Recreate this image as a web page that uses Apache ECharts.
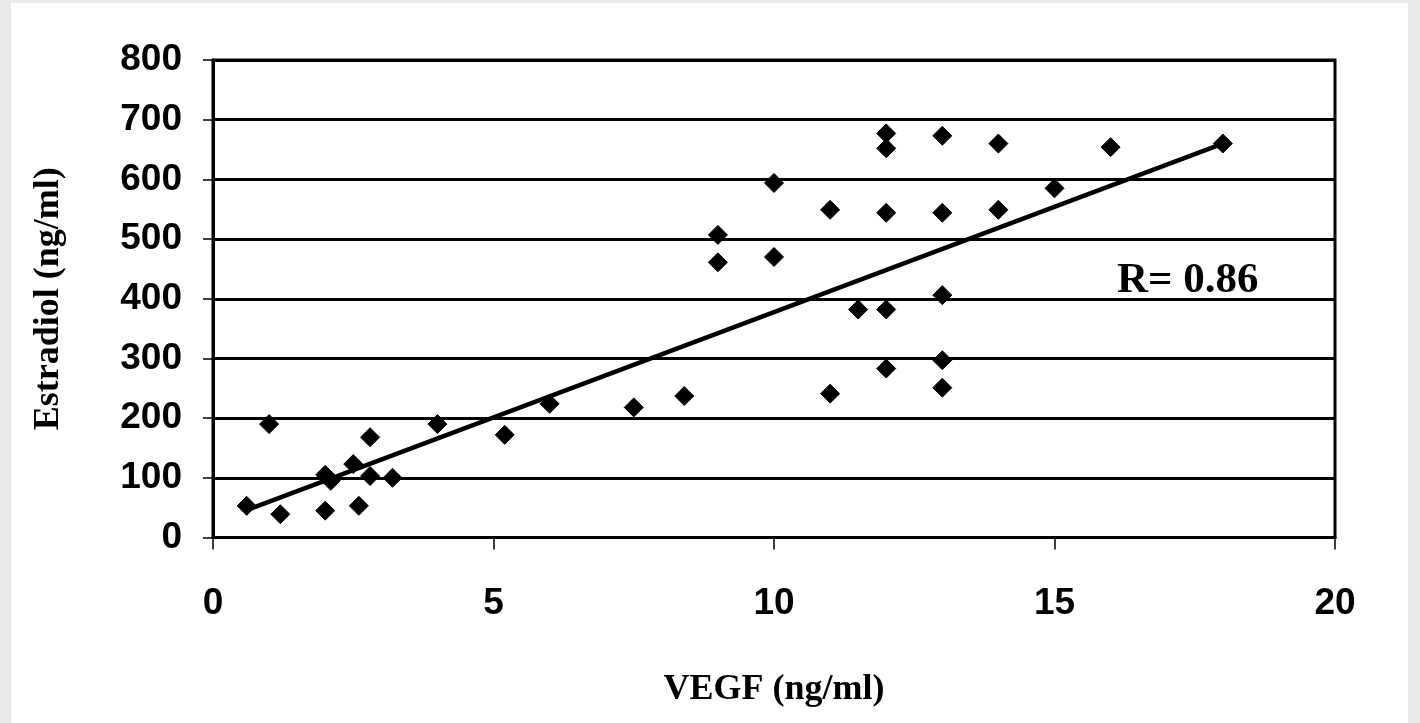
<!DOCTYPE html>
<html>
<head>
<meta charset="utf-8">
<script src="https://cdn.jsdelivr.net/npm/echarts@6/dist/echarts.min.js"></script>
<style>
  html, body { margin: 0; padding: 0; background: #e9eaea; }
  #chart { position: absolute; left: 11px; top: 3px; width: 1397px; height: 720px; background: #ffffff; }
</style>
</head>
<body>
<div id="chart"></div>
<script>
// VEGF (ng/ml) vs Estradiol (ng/ml)
const vegf = [0.6, 1.0, 1.2, 2.0, 2.0, 2.1, 2.5, 2.6, 2.8, 2.8, 3.2, 4.0, 5.2, 6.0, 7.5, 8.4,
  9, 9, 10, 10, 11, 11, 11.5, 12, 12, 12, 12, 12, 13, 13, 13, 13, 13, 14, 14, 15, 16, 18];
const estradiol = [53, 190, 39, 45, 105, 95, 123, 53, 168, 103, 100, 190, 172, 224, 218, 237,
  507, 461, 594, 470, 549, 241, 382, 677, 652, 544, 382, 283, 673, 544, 406, 297, 251, 660, 549, 585, 654, 660];

// regression line end points
const trendX = [0.6, 18];
const trendY = [46, 660];

const xTicks = [0, 5, 10, 15, 20];
const yTicks = [0, 100, 200, 300, 400, 500, 600, 700, 800];
const rLabel = "R= 0.86";

const chart = echarts.init(document.getElementById("chart"), null, { renderer: "canvas" });

const tickFont = {
  fontFamily: "Liberation Sans, Arial, sans-serif",
  fontWeight: "bold",
  fontSize: 37,
  color: "#000",
};
const nameFont = {
  fontFamily: "Liberation Serif, Times New Roman, serif",
  fontWeight: "bold",
  fontSize: 36,
  color: "#000",
};

chart.setOption({
  animation: false,
  grid: { left: 202, top: 57, width: 1122, height: 477.5, show: true, borderColor: "#000", borderWidth: 3 },
  xAxis: {
    type: "value",
    min: xTicks[0],
    max: xTicks[xTicks.length - 1],
    interval: 5,
    name: "VEGF (ng/ml)",
    nameLocation: "middle",
    nameGap: 134,
    nameTextStyle: nameFont,
    axisLine: { onZero: false, lineStyle: { color: "#000", width: 3 } },
    axisTick: { show: true, length: 12, lineStyle: { color: "#000", width: 1.5 } },
    axisLabel: Object.assign({ margin: 48 }, tickFont),
    splitLine: { show: false },
  },
  yAxis: {
    type: "value",
    min: yTicks[0],
    max: yTicks[yTicks.length - 1],
    interval: 100,
    name: "Estradiol (ng/ml)",
    nameLocation: "middle",
    nameGap: 146,
    nameTextStyle: nameFont,
    axisLine: { lineStyle: { color: "#000", width: 3 } },
    axisTick: { show: true, length: 10, lineStyle: { color: "#000", width: 1.5 } },
    axisLabel: Object.assign({ margin: 31 }, tickFont),
    splitLine: { show: true, lineStyle: { color: "#000", width: 3 } },
  },
  graphic: [
    {
      type: "text",
      left: 1106,
      top: 256,
      style: {
        text: rLabel,
        font: "bold 43px 'Liberation Serif', 'Times New Roman', serif",
        fill: "#000",
      },
    },
  ],
  series: [
    {
      type: "line",
      data: trendX.map((x, i) => [x, trendY[i]]),
      symbol: "none",
      lineStyle: { color: "#000", width: 4.5 },
      z: 2,
    },
    {
      type: "scatter",
      data: vegf.map((x, i) => [x, estradiol[i]]),
      symbol: "diamond",
      symbolSize: 19,
      itemStyle: { color: "#000", opacity: 1, borderColor: "#000", borderWidth: 1 },
      z: 3,
    },
  ],
});
</script>
</body>
</html>
